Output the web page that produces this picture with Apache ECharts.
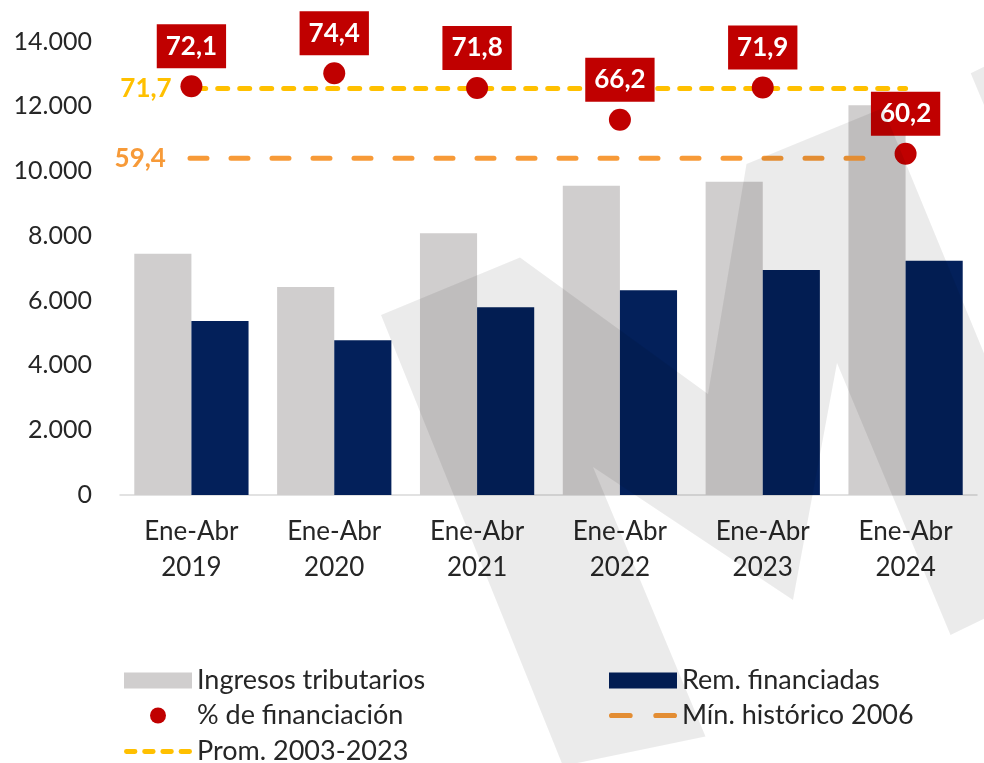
<!DOCTYPE html>
<html>
<head>
<meta charset="utf-8">
<script src="https://cdn.jsdelivr.net/npm/echarts@6/dist/echarts.min.js"></script>
<style>
  html, body { margin: 0; padding: 0; background: #fff; }
  #chart { width: 984px; height: 763px; }
</style>
</head>
<body>
<div id="chart"></div>
<script>
const categories = ['Ene-Abr\n2019', 'Ene-Abr\n2020', 'Ene-Abr\n2021', 'Ene-Abr\n2022', 'Ene-Abr\n2023', 'Ene-Abr\n2024']
const ingresos = [7450, 6420, 8080, 9550, 9670, 12030]
const remFinanciadas = [5370, 4775, 5795, 6320, 6945, 7235]
const pctFinanciacion = [72.1, 74.4, 71.8, 66.2, 71.9, 60.2]
const promedio = 71.7
const minimo = 59.4

const FONT = 'Lato'
const TXT = '#262626'
const fmtComma = (v) => String(v).replace('.', ',')
const fmtMiles = (v) => String(v).replace(/\B(?=(\d{3})+(?!\d))/g, '.')

// guiones redondeados para los iconos de leyenda de las líneas
function dashIcon(n, len, gap) {
  let d = ''
  for (let i = 0; i < n; i++) {
    const x = i * (len + gap) + 2.5
    d += `M${x},0h${len - 5}a2.5,2.5 0 0 1 0,5h-${len - 5}a2.5,2.5 0 0 1 0,-5z`
  }
  return 'path://' + d
}

// marca de agua (W) encima del gráfico
const watermark = [
  [[381, 315], [520, 257.5], [708, 394], [746.5, 164], [883, 108], [1000, 392], [1000, 611],
   [950.5, 635], [837, 363], [793, 600], [593, 467], [705.5, 736.5], [563, 766]],
  [[970.7, 73.3], [1000, 59], [1000, 143]],
]

const chart = echarts.init(document.getElementById('chart'))

// línea horizontal de referencia con etiqueta a la izquierda
function refLine(name, value, span, color, dash) {
  return {
    name,
    type: 'line',
    xAxisIndex: 1,
    yAxisIndex: 1,
    symbol: 'circle',
    symbolSize: 0.1,
    showSymbol: true,
    z: 3,
    lineStyle: { color, width: 5, type: dash, cap: 'round' },
    itemStyle: { color },
    data: [
      {
        value: [span[0], value],
        label: {
          show: true,
          position: 'left',
          distance: 24,
          formatter: fmtComma(value),
          color,
          fontFamily: FONT,
          fontWeight: 'bold',
          fontSize: 26,
        },
      },
      [span[1], value],
    ],
  }
}

// una leyenda por entrada para fijar filas y columnas
function legendItem(name, icon, left, top) {
  return {
    left,
    top,
    padding: 0,
    itemWidth: 68,
    itemHeight: 16,
    textStyle: { color: TXT, fontFamily: FONT, fontSize: 27 },
    data: [{ name, icon }],
  }
}

chart.setOption({
  animation: false,
  textStyle: { fontFamily: FONT },
  grid: { left: 120, right: 7, top: 41.5, bottom: 268, outerBoundsMode: 'none' },
  xAxis: [
    {
      type: 'category',
      data: categories,
      axisLine: { lineStyle: { color: '#d9d9d9', width: 1.5 } },
      axisTick: { show: false },
      axisLabel: {
        interval: 0,
        margin: 19,
        color: TXT,
        fontFamily: FONT,
        fontSize: 26,
        lineHeight: 36,
      },
    },
    { type: 'value', min: 0, max: 6, show: false },
  ],
  yAxis: [
    {
      type: 'value',
      min: 0,
      max: 14000,
      interval: 2000,
      axisLine: { show: false },
      axisTick: { show: false },
      splitLine: { show: false },
      axisLabel: {
        margin: 28,
        color: TXT,
        fontFamily: FONT,
        fontSize: 25,
        formatter: fmtMiles,
      },
    },
    { type: 'value', min: 0, max: 80, show: false, splitLine: { show: false } },
  ],
  legend: [
    legendItem('Ingresos tributarios', 'rect', 124, 667),
    legendItem('% de financiación', 'circle', 150, 702),
    legendItem('Prom. 2003-2023', dashIcon(4, 14, 5), 124, 738),
    legendItem('Rem. financiadas', 'rect', 609, 667),
    legendItem('Mín. histórico 2006', dashIcon(2, 23, 20), 609, 702),
  ],
  series: [
    {
      name: 'Ingresos tributarios',
      type: 'bar',
      barWidth: '40%',
      barGap: '0%',
      itemStyle: { color: '#d0cece' },
      data: ingresos,
    },
    {
      name: 'Rem. financiadas',
      type: 'bar',
      barWidth: '40%',
      itemStyle: { color: '#03205a' },
      data: remFinanciadas,
    },
    refLine('Prom. 2003-2023', promedio, [0.53, 5.5], '#ffc000', [10, 12]),
    refLine('Mín. histórico 2006', minimo, [0.49, 5.34], '#f79a38', [17, 24]),
    {
      name: '% de financiación',
      type: 'scatter',
      yAxisIndex: 1,
      z: 4,
      symbolSize: 22,
      itemStyle: { color: '#c00000', opacity: 1 },
      label: {
        show: true,
        position: 'top',
        distance: 7,
        formatter: (p) => fmtComma(p.value),
        backgroundColor: '#c00000',
        color: '#fff',
        fontFamily: FONT,
        fontWeight: 'bold',
        fontSize: 26,
        lineHeight: 30,
        padding: [7, 9],
      },
      data: pctFinanciacion,
    },
  ],
  graphic: watermark.map((pts) => ({
    type: 'polygon',
    silent: true,
    z: 100,
    shape: { points: pts },
    style: { fill: 'rgba(0,0,0,0.08)' },
  })),
})
</script>
</body>
</html>
